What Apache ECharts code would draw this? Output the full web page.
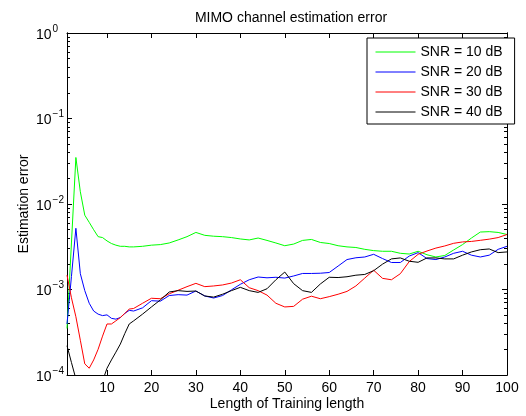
<!DOCTYPE html>
<html>
<head>
<meta charset="utf-8">
<script src="https://cdn.jsdelivr.net/npm/echarts@6/dist/echarts.min.js"></script>
<style>
  html, body { margin: 0; padding: 0; background: #fff; }
  #chart { width: 526px; height: 416px; }
</style>
</head>
<body>
<div id="chart"></div>
<script>
// training length (x)
const xs = [1, 2, 3, 4, 5, 6, 7, 8, 9, 10, 11, 12, 13, 14, 15, 16,
  18, 20, 22, 24, 26, 28, 30, 32, 34, 36, 38, 40, 42, 44, 46, 48, 50,
  52, 54, 56, 58, 60, 62, 64, 66, 68, 70, 72, 74, 76, 78, 80, 82, 84,
  86, 88, 90, 92, 94, 96, 98, 100];

// estimation error per SNR
const snr10 = [3.5e-4, 3.5e-3, 3.5e-2, 1.39e-2, 7.4e-3, 6.1e-3, 5.0e-3, 4.15e-3, 4.05e-3, 3.7e-3, 3.45e-3, 3.3e-3, 3.2e-3, 3.2e-3, 3.15e-3, 3.15e-3,
  3.2e-3, 3.3e-3, 3.35e-3, 3.5e-3, 3.8e-3, 4.15e-3, 4.65e-3, 4.3e-3, 4.2e-3, 4.15e-3, 4.05e-3, 3.9e-3, 3.8e-3, 4.0e-3, 3.75e-3, 3.5e-3, 3.25e-3,
  3.4e-3, 3.75e-3, 3.85e-3, 3.55e-3, 3.45e-3, 3.25e-3, 3.15e-3, 3.1e-3, 2.95e-3, 2.85e-3, 2.8e-3, 2.8e-3, 2.65e-3, 2.6e-3, 2.8e-3, 2.55e-3, 2.4e-3,
  2.5e-3, 2.9e-3, 3.35e-3, 4.0e-3, 4.7e-3, 4.75e-3, 4.65e-3, 4.4e-3];
const snr20 = [3.95e-4, 1.42e-3, 5.2e-3, 1.53e-3, 9.7e-4, 6.9e-4, 5.6e-4, 5.15e-4, 4.95e-4, 5.05e-4, 4.6e-4, 4.5e-4, 4.7e-4, 5.25e-4, 5.7e-4, 5.6e-4,
  6.1e-4, 7.4e-4, 7.3e-4, 8.5e-4, 8.7e-4, 8.6e-4, 9.6e-4, 8.4e-4, 7.95e-4, 8.5e-4, 9.9e-4, 1.15e-3, 1.3e-3, 1.4e-3, 1.37e-3, 1.39e-3, 1.36e-3,
  1.44e-3, 1.54e-3, 1.54e-3, 1.55e-3, 1.58e-3, 1.88e-3, 2.24e-3, 2.35e-3, 2.4e-3, 2.58e-3, 2.3e-3, 2.07e-3, 2.07e-3, 2.46e-3, 2.7e-3, 2.3e-3, 2.24e-3,
  2.4e-3, 2.65e-3, 2.8e-3, 2.52e-3, 2.4e-3, 2.52e-3, 2.95e-3, 3.2e-3];
const snr30 = [1.47e-3, 8.0e-4, 4.8e-4, 2.55e-4, 1.35e-4, 1.2e-4, 1.5e-4, 2.0e-4, 2.85e-4, 3.95e-4, 3.95e-4, 4.3e-4, 4.7e-4, 5.25e-4, 5.9e-4, 6.0e-4,
  6.9e-4, 7.9e-4, 7.8e-4, 8.9e-4, 9.8e-4, 1.08e-3, 1.18e-3, 1.08e-3, 1.1e-3, 1.13e-3, 1.19e-3, 1.3e-3, 1.05e-3, 9.7e-4, 8.6e-4, 6.9e-4, 6.25e-4,
  6.35e-4, 7.7e-4, 8.35e-4, 7.8e-4, 8.25e-4, 8.8e-4, 9.5e-4, 1.1e-3, 1.36e-3, 1.68e-3, 1.35e-3, 1.3e-3, 1.53e-3, 2.12e-3, 2.58e-3, 2.82e-3, 3.05e-3,
  3.23e-3, 3.47e-3, 3.6e-3, 3.65e-3, 3.76e-3, 3.88e-3, 4.05e-3, 4.4e-3];
const snr40 = [2.2e-4, 1.4e-4, 9e-5, 6e-5, 4.5e-5, 4e-5, 4.5e-5, 6e-5, 8.5e-5, 1.2e-4, 1.5e-4, 1.85e-4, 2.3e-4, 3.05e-4, 3.95e-4, 4.3e-4,
  5.15e-4, 6.25e-4, 7.55e-4, 9.35e-4, 9.7e-4, 9.5e-4, 9.6e-4, 8.4e-4, 8.15e-4, 8.8e-4, 9.7e-4, 1.06e-3, 9.7e-4, 9.25e-4, 1.02e-3, 1.3e-3, 1.6e-3,
  1.17e-3, 9.7e-4, 9.25e-4, 1.16e-3, 1.39e-3, 1.38e-3, 1.41e-3, 1.47e-3, 1.5e-3, 1.66e-3, 1.98e-3, 2.28e-3, 2.34e-3, 2.14e-3, 2.08e-3, 2.34e-3, 2.34e-3,
  2.28e-3, 2.28e-3, 2.52e-3, 2.75e-3, 2.92e-3, 2.98e-3, 2.7e-3, 2.75e-3];

const seriesNames = ["SNR = 10 dB", "SNR = 20 dB", "SNR = 30 dB", "SNR = 40 dB"];
const seriesColors = ["#00ff00", "#0000ff", "#ff0000", "#000000"];

// ticks
const xTicks = [10, 20, 30, 40, 50, 60, 70, 80, 90, 100];
const yTicks = [1e-4, 1e-3, 1e-2, 1e-1, 1];
const yMinorTicks = [2e-4, 3e-4, 4e-4, 5e-4, 6e-4, 7e-4, 8e-4, 9e-4,
  2e-3, 3e-3, 4e-3, 5e-3, 6e-3, 7e-3, 8e-3, 9e-3,
  2e-2, 3e-2, 4e-2, 5e-2, 6e-2, 7e-2, 8e-2, 9e-2,
  0.2, 0.3, 0.4, 0.5, 0.6, 0.7, 0.8, 0.9];

const FONT = "'Liberation Sans', Arial, Helvetica, sans-serif";

const chart = echarts.init(document.getElementById("chart"));

// x axis: bottom with labels, top mirrored ticks only
const makeX = (pos, labels) => ({
  type: "value",
  position: pos,
  min: 1,
  max: 100,
  name: labels ? "Length of Training length" : "",
  nameLocation: "middle",
  nameGap: 22,
  nameMoveOverlap: false,
  nameTextStyle: { fontFamily: FONT, fontSize: 14, color: "#000", verticalAlign: "top" },
  axisLine: { show: true, onZero: false, lineStyle: { color: "#000", width: 1 } },
  axisTick: { show: true, inside: true, length: 5, customValues: xTicks, lineStyle: { color: "#000" } },
  axisLabel: { show: labels, customValues: xTicks, margin: 6, fontFamily: FONT, fontSize: 14, color: "#000" },
  splitLine: { show: false }
});

// y axis (log): major or minor ticks, left or right
const makeY = (pos, ticks, len, labels) => ({
  type: "log",
  logBase: 10,
  position: pos,
  min: 1e-4,
  max: 1,
  name: labels ? "Estimation error" : "",
  nameLocation: "middle",
  nameGap: 36,
  nameMoveOverlap: false,
  nameTextStyle: { fontFamily: FONT, fontSize: 14, color: "#000" },
  axisLine: { show: true, onZero: false, lineStyle: { color: "#000", width: 1 } },
  axisTick: { show: true, inside: true, length: len, customValues: ticks, lineStyle: { color: "#000" } },
  axisLabel: {
    show: labels,
    customValues: ticks,
    align: "left",
    margin: 31,
    formatter: (v) => {
      const e = Math.round(Math.log10(v));
      return "{a|10}{b|" + (e < 0 ? "\u2212" + (-e) : e) + "}";
    },
    rich: {
      a: { fontFamily: FONT, fontSize: 14, color: "#000", verticalAlign: "bottom" },
      b: { fontFamily: FONT, fontSize: 10, color: "#000", verticalAlign: "bottom", padding: [0, 0, 8, 1] }
    }
  },
  splitLine: { show: false }
});

const option = {
  animation: false,
  backgroundColor: "#fff",
  title: {
    text: "MIMO channel estimation error",
    left: 286,
    textAlign: "center",
    top: 6,
    textStyle: { fontFamily: FONT, fontSize: 14, fontWeight: "normal", color: "#000" }
  },
  grid: { left: 67, right: 19, top: 33, bottom: 41 },
  legend: {
    orient: "vertical",
    left: 367,
    top: 38,
    itemWidth: 40,
    itemHeight: 14,
    itemGap: 6,
    padding: [7, 12, 5, 8],
    borderColor: "#000",
    borderWidth: 1,
    backgroundColor: "#fff",
    itemStyle: { opacity: 0 },
    lineStyle: { width: 1 },
    textStyle: { fontFamily: FONT, fontSize: 14, color: "#000" },
    data: seriesNames
  },
  xAxis: [makeX("bottom", true), makeX("top", false)],
  yAxis: [
    makeY("left", yTicks, 5, true),
    makeY("left", yMinorTicks, 3, false),
    makeY("right", yTicks, 5, false),
    makeY("right", yMinorTicks, 3, false)
  ],
  series: [snr10, snr20, snr30, snr40].map((vals, i) => ({
    name: seriesNames[i],
    type: "line",
    xAxisIndex: 0,
    yAxisIndex: 0,
    data: xs.map((x, j) => [x, vals[j]]),
    symbol: "none",
    clip: true,
    lineStyle: { width: 1, color: seriesColors[i] },
    itemStyle: { color: seriesColors[i] }
  }))
};

chart.setOption(option);
</script>
</body>
</html>
